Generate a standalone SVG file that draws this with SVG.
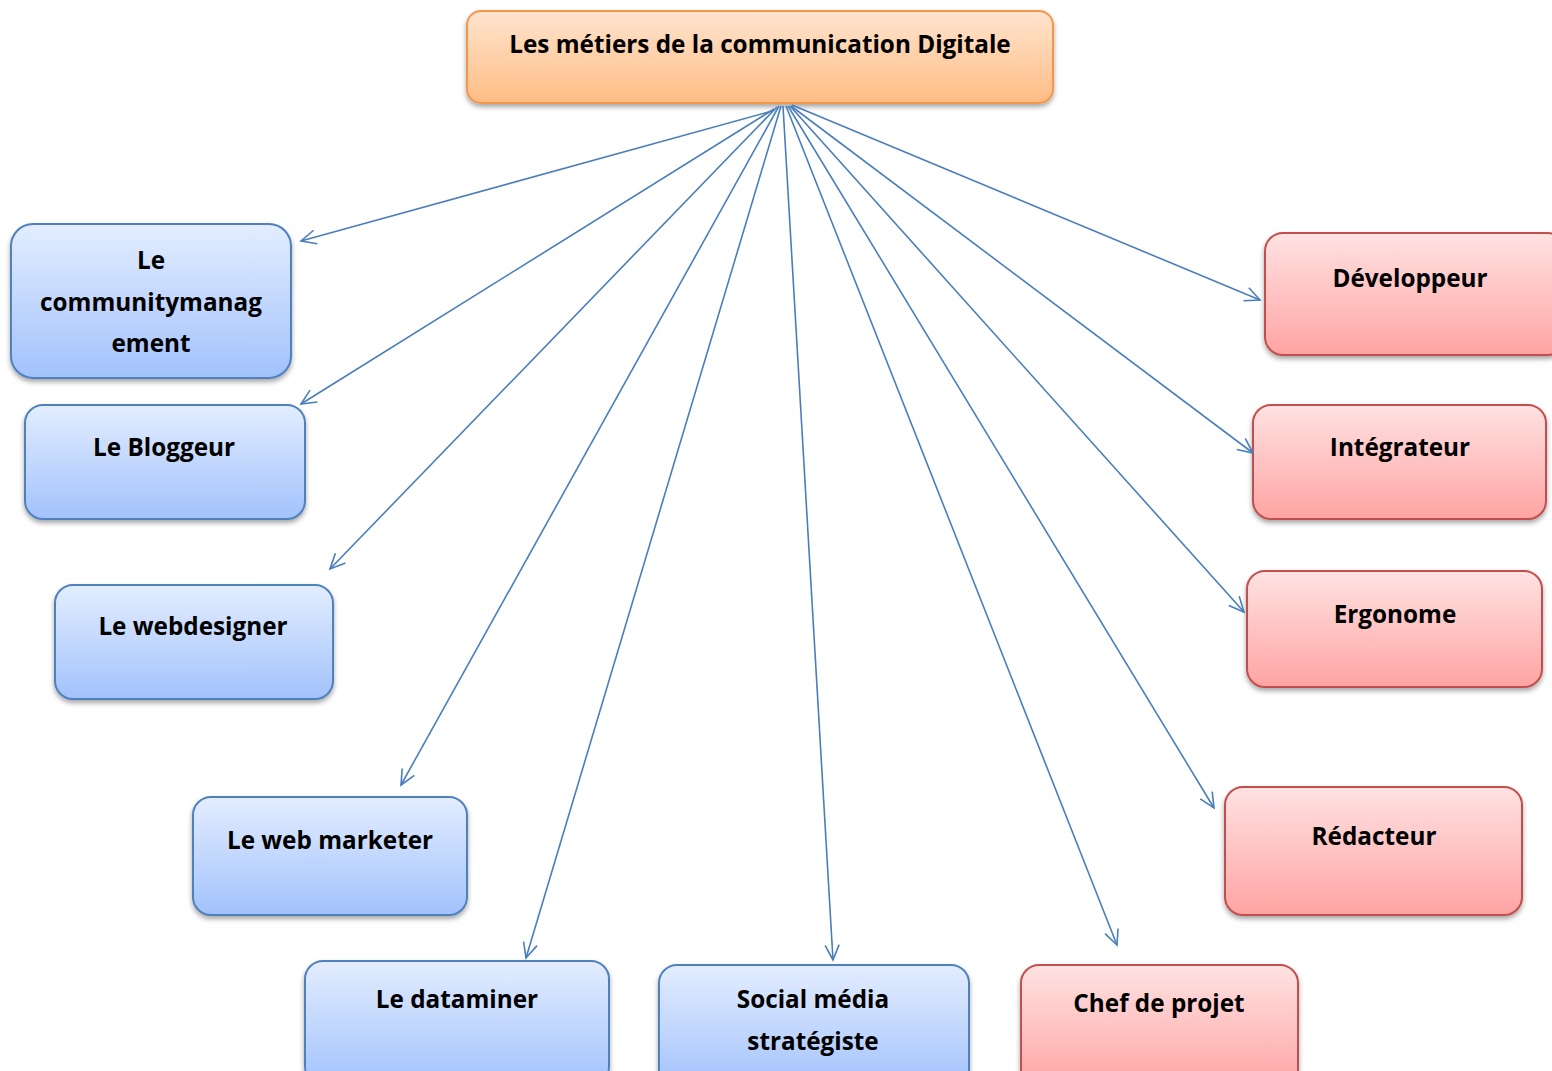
<svg xmlns="http://www.w3.org/2000/svg" width="1552" height="1071" viewBox="0 0 1552 1071">
<defs>
<linearGradient id="gOrange" x1="0" y1="0" x2="0" y2="1">
<stop offset="0" stop-color="#FFE4CE"/>
<stop offset="1" stop-color="#FFBD85"/>
</linearGradient>
<linearGradient id="gBlue" x1="0" y1="0" x2="0" y2="1">
<stop offset="0" stop-color="#E3EDFF"/>
<stop offset="1" stop-color="#A2C2FC"/>
</linearGradient>
<linearGradient id="gRed" x1="0" y1="0" x2="0" y2="1">
<stop offset="0" stop-color="#FFE2E2"/>
<stop offset="1" stop-color="#FFA4A3"/>
</linearGradient>
<filter id="shadow" x="-10%" y="-10%" width="120%" height="130%">
<feDropShadow dx="0" dy="3" stdDeviation="2.5" flood-color="#000" flood-opacity="0.35"/>
</filter>
<marker id="arrow" markerWidth="20" markerHeight="20" refX="0" refY="0" viewBox="-16 -10 20 20" orient="auto" markerUnits="userSpaceOnUse">
<path d="M -15,-7 L 0,0 L -15,7" fill="none" stroke="#4A7EBB" stroke-width="1.6"/>
</marker>
</defs>
<style>
.orange{fill:url(#gOrange);stroke:#F79646;stroke-width:2;filter:url(#shadow)}
.blue{fill:url(#gBlue);stroke:#4F81BD;stroke-width:2;filter:url(#shadow)}
.red{fill:url(#gRed);stroke:#C0504D;stroke-width:2;filter:url(#shadow)}
text{font-family:"Open Sans",Lato,"Liberation Sans",sans-serif;font-weight:bold;font-size:24.3px;fill:#000;text-anchor:middle}
.conn line{stroke:#4A7EBB;stroke-width:1.6;marker-end:url(#arrow)}
</style>
<rect width="1552" height="1071" fill="#fff"/>

<g id="root">
<rect class="orange" x="467" y="11" width="586" height="92" rx="14"/>
<text x="760" y="53">Les métiers de la communication Digitale</text>
</g>

<g id="community">
<rect class="blue" x="11" y="224" width="280" height="154" rx="22"/>
<text x="151" y="269">Le</text>
<text x="151" y="311">communitymanag</text>
<text x="151" y="352">ement</text>
</g>
<g id="bloggeur">
<rect class="blue" x="25" y="405" width="280" height="114" rx="18"/>
<text x="164" y="456">Le Bloggeur</text>
</g>
<g id="webdesigner">
<rect class="blue" x="55" y="585" width="278" height="114" rx="18"/>
<text x="193" y="635">Le webdesigner</text>
</g>
<g id="webmarketer">
<rect class="blue" x="193" y="797" width="274" height="118" rx="18"/>
<text x="330" y="849">Le web marketer</text>
</g>
<g id="dataminer">
<rect class="blue" x="305" y="961" width="304" height="124" rx="18"/>
<text x="457" y="1008">Le dataminer</text>
</g>
<g id="socialmedia">
<rect class="blue" x="659" y="965" width="310" height="124" rx="18"/>
<text x="813" y="1008">Social média</text>
<text x="813" y="1050">stratégiste</text>
</g>

<g id="developpeur">
<rect class="red" x="1265" y="233" width="300" height="122" rx="18"/>
<text x="1410" y="287">Développeur</text>
</g>
<g id="integrateur">
<rect class="red" x="1253" y="405" width="293" height="114" rx="18"/>
<text x="1400" y="456">Intégrateur</text>
</g>
<g id="ergonome">
<rect class="red" x="1247" y="571" width="295" height="116" rx="18"/>
<text x="1395" y="623">Ergonome</text>
</g>
<g id="redacteur">
<rect class="red" x="1225" y="787" width="297" height="128" rx="18"/>
<text x="1374" y="845">Rédacteur</text>
</g>
<g id="chefdeprojet">
<rect class="red" x="1021" y="965" width="277" height="124" rx="18"/>
<text x="1159" y="1012">Chef de projet</text>
</g>

<g id="connectors" class="conn">
<line x1="772" y1="111" x2="301" y2="241"/>
<line x1="774" y1="109" x2="301" y2="404"/>
<line x1="777" y1="107" x2="330" y2="569"/>
<line x1="779" y1="106" x2="401" y2="785"/>
<line x1="781" y1="106" x2="526" y2="958"/>
<line x1="783" y1="106" x2="833" y2="960"/>
<line x1="786" y1="106" x2="1117" y2="945"/>
<line x1="788" y1="106" x2="1214" y2="808"/>
<line x1="790" y1="106" x2="1244" y2="612"/>
<line x1="791" y1="106" x2="1253" y2="453"/>
<line x1="792" y1="105" x2="1260" y2="300"/>
</g>
</svg>
